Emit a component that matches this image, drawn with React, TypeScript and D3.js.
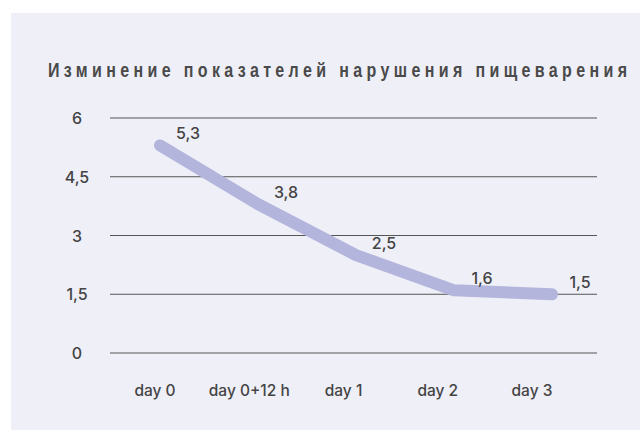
import React from "react";
import * as d3 from "d3";

const title = "Изминение показателей нарушения пищеварения";
const categories = ["day 0", "day 0+12 h", "day 1", "day 2", "day 3"];
const values = [5.3, 3.8, 2.5, 1.6, 1.5];
const valueLabels = ["5,3", "3,8", "2,5", "1,6", "1,5"];
const yTicks = [0, 1.5, 3, 4.5, 6];
const yTickLabels = ["0", "1,5", "3", "4,5", "6"];

const W = 640;
const H = 430;

export default function App() {
  const x = d3.scalePoint<string>().domain(categories).range([160, 552]);
  const xLab = d3.scalePoint<string>().domain(categories).range([155, 532]);
  const y = d3.scaleLinear().domain([0, 6]).range([353, 118]);
  const line = d3
    .line<number>()
    .x((_, i) => x(categories[i]) as number)
    .y((d) => y(d));
  const font = "Inter, 'Noto Sans', sans-serif";
  const sx = 0.8;
  return (
    <svg
      width={W}
      height={H}
      style={{ position: "absolute", left: 0, top: 0, display: "block" }}
    >
      <rect x={0} y={0} width={W} height={H} fill="#ffffff" />
      <rect x={11} y={13} width={W - 11} height={H - 13} fill="#efeff8" />
      <text
        transform={`scale(${sx},1)`}
        x={48 / sx}
        y={77}
        textLength={579 / sx}
        lengthAdjust="spacing"
        fontFamily="'Liberation Sans', Arial, sans-serif"
        fontWeight="bold"
        fontSize={20}
        fill="#4a4a4a"
      >
        {title}
      </text>
      {yTicks.map((t, i) => (
        <g key={t}>
          <line
            x1={110}
            x2={597}
            y1={y(t)}
            y2={y(t)}
            stroke="#555"
            strokeWidth={1.2}
          />
          <text
            x={77}
            y={y(t) + 6}
            textAnchor="middle"
            fontFamily={font}
            fontWeight={500}
            fontSize={16}
            fill="#444"
          >
            {yTickLabels[i]}
          </text>
        </g>
      ))}
      {categories.map((c) => (
        <text
          key={c}
          x={xLab(c)}
          y={396}
          textAnchor="middle"
          fontFamily={font}
          fontWeight={500}
          fontSize={15.5}
          fill="#444"
        >
          {c}
        </text>
      ))}
      <path
        d={line(values) || ""}
        fill="none"
        stroke="#b3b5dc"
        strokeWidth={12}
        strokeLinecap="round"
        strokeLinejoin="round"
      />
      {values.map((v, i) => (
        <text
          key={i}
          x={(x(categories[i]) as number) + 28}
          y={y(v) - 6}
          textAnchor="middle"
          fontFamily={font}
          fontWeight={500}
          fontSize={16}
          fill="#444"
        >
          {valueLabels[i]}
        </text>
      ))}
    </svg>
  );
}
